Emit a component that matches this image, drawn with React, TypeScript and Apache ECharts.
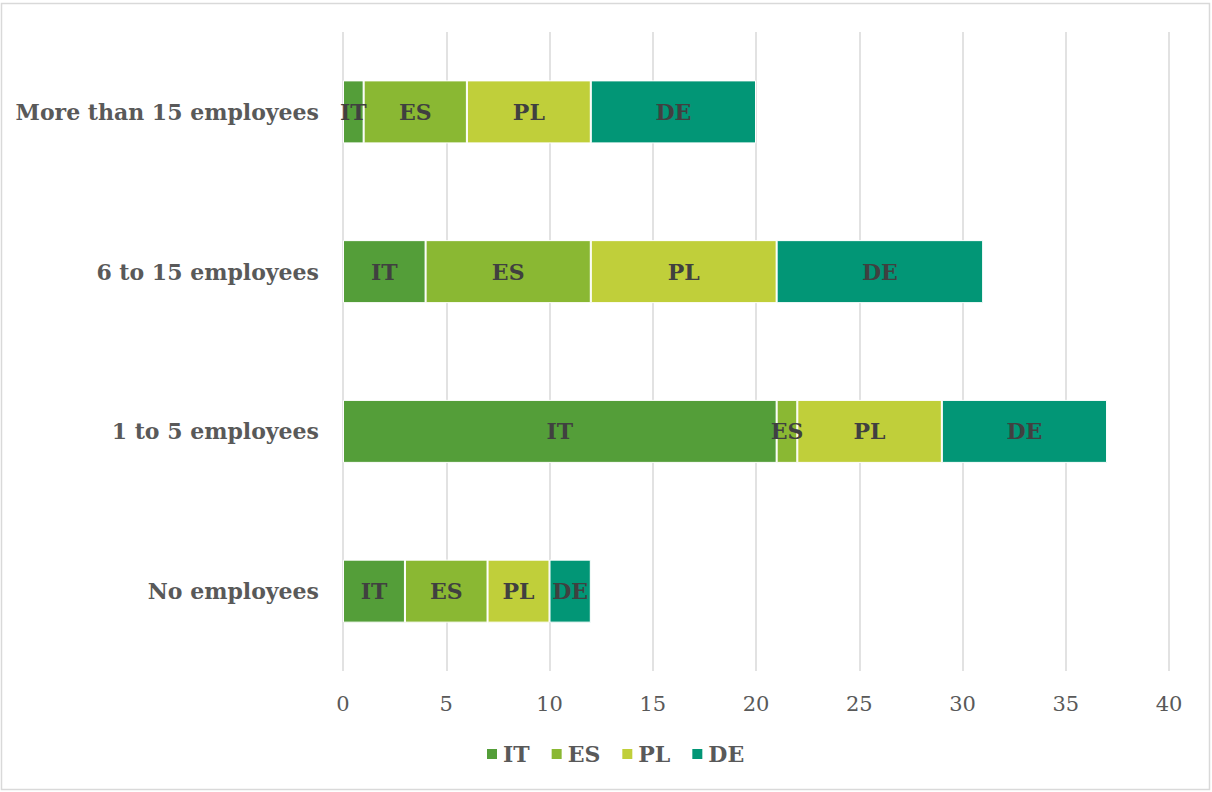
import React, { useEffect, useRef } from "react";
import * as echarts from "echarts";

const categories = ["No employees", "1 to 5 employees", "6 to 15 employees", "More than 15 employees"];
const seriesNames = ["IT", "ES", "PL", "DE"];
const itValues = [3, 21, 4, 1];
const esValues = [4, 1, 8, 5];
const plValues = [3, 7, 9, 6];
const deValues = [2, 8, 10, 8];
const colors = ["#549E39", "#8AB833", "#C0CF3A", "#029676"];
const xTicks = { min: 0, max: 40, interval: 5 };

const FONT = "DejaVu Serif";
const FS = 22;

export default function App() {
  const ref = useRef<HTMLDivElement>(null);
  useEffect(() => {
    if (!ref.current) return;
    const chart = echarts.init(ref.current, undefined, { renderer: "svg" });
    const values = [itValues, esValues, plValues, deValues];
    chart.setOption({
      animation: false,
      textStyle: { fontFamily: FONT },
      graphic: [
        {
          type: "rect",
          shape: { x: 1.5, y: 3.5, width: 1208, height: 786 },
          style: { fill: "none", stroke: "#d9d9d9", lineWidth: 1.5 },
          silent: true,
        },
      ],
      grid: { left: 343, right: 43, top: 32, bottom: 121, containLabel: false },
      xAxis: {
        type: "value",
        min: xTicks.min,
        max: xTicks.max,
        interval: xTicks.interval,
        axisLine: { show: false },
        axisTick: { show: false },
        splitLine: { show: true, lineStyle: { color: "#d9d9d9", width: 1.5 } },
        axisLabel: { color: "#595959", fontSize: 21, fontFamily: FONT, margin: 22 },
      },
      yAxis: {
        type: "category",
        data: categories,
        axisLine: { show: false },
        axisTick: { show: false },
        axisLabel: { color: "#595959", fontSize: FS, fontWeight: "bold", fontFamily: FONT, margin: 24 },
      },
      legend: {
        bottom: 22,
        left: 480,
        itemWidth: 12,
        itemHeight: 12,
        itemGap: 20,
        icon: "rect",
        textStyle: { color: "#595959", fontSize: FS, fontWeight: "bold", fontFamily: FONT },
        data: seriesNames,
      },
      series: seriesNames.map((name, i) => ({
        name,
        type: "bar",
        stack: "total",
        barWidth: 63,
        data: values[i],
        itemStyle: { color: colors[i], borderColor: "#ffffff", borderWidth: 1 },
        label: {
          show: true,
          position: "inside",
          formatter: name,
          color: "#404040",
          fontSize: FS,
          fontWeight: "bold",
          fontFamily: FONT,
        },
        labelLayout: { hideOverlap: false },
      })),
    });
    return () => chart.dispose();
  }, []);
  return <div ref={ref} style={{ width: 1212, height: 792, position: "absolute", left: 0, top: 0 }} />;
}
